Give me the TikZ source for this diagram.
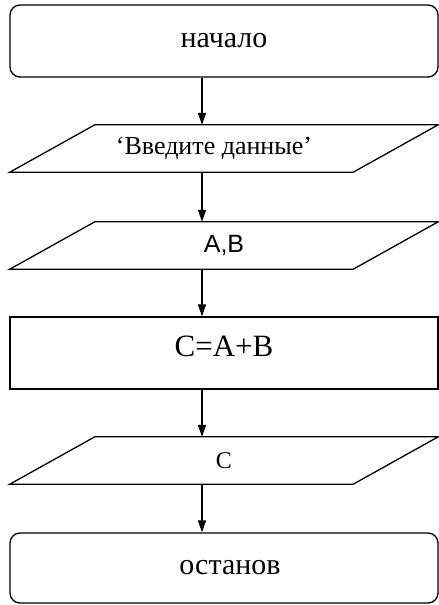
\documentclass[tikz,border=0pt]{standalone}
\usepackage{fontspec}
\setmainfont{Liberation Serif}
\newfontfamily\arialf{Liberation Sans}
\usetikzlibrary{arrows.meta}
\begin{document}
\begin{tikzpicture}[x=1pt,y=-1pt,
  shp/.style={draw, line width=1.3pt, minimum width=428pt, inner sep=0pt},
  term/.style={shp, rounded corners=10pt},
  proc/.style={shp},
  io/.style={inner sep=0pt, minimum width=428pt, minimum height=47pt},
  ioline/.style={line width=1.3pt, line join=miter},
  arr/.style={line width=1.3pt, -{Triangle[length=12pt,width=8pt]}}]
\useasboundingbox (0,0) rectangle (439,605);
% nodes
\node[term, minimum height=72pt, font=\fontsize{30}{36}\selectfont] (n1) at (224,41) {начало};
\node[io, font=\fontsize{26}{31}\selectfont] (p1) at (224,148.5) {\hspace*{-20pt}‘Введите данные’};
\node[io, font=\arialf\fontsize{25}{30}\selectfont] (p2) at (224,245.5) {A,B};
\node[proc, minimum height=72pt, text height=21pt, text depth=14pt, font=\fontsize{31}{37}\selectfont] (r1) at (224,353) {C=A+B};
\node[io, font=\fontsize{24}{29}\selectfont] (p3) at (224,460.5) {C};
\node[term, minimum height=70pt, font=\fontsize{30}{36}\selectfont] (n2) at (224,568) {\hspace*{12pt}останов};
% parallelograms
\foreach \p in {p1,p2,p3}{
  \draw[ioline] ([xshift=85pt]\p.north west) -- (\p.north east)
    -- ([xshift=-85pt]\p.south east) -- (\p.south west) -- cycle;
}
% connectors
\draw[arr] ([xshift=-22pt]n1.south) -- ([xshift=-22pt]p1.north);
\draw[arr] ([xshift=-22pt]p1.south) -- ([xshift=-22pt]p2.north);
\draw[arr] ([xshift=-22pt]p2.south) -- ([xshift=-22pt]r1.north);
\draw[arr] ([xshift=-22pt]r1.south) -- ([xshift=-22pt]p3.north);
\draw[arr] ([xshift=-22pt]p3.south) -- ([xshift=-22pt]n2.north);
\end{tikzpicture}
\end{document}
